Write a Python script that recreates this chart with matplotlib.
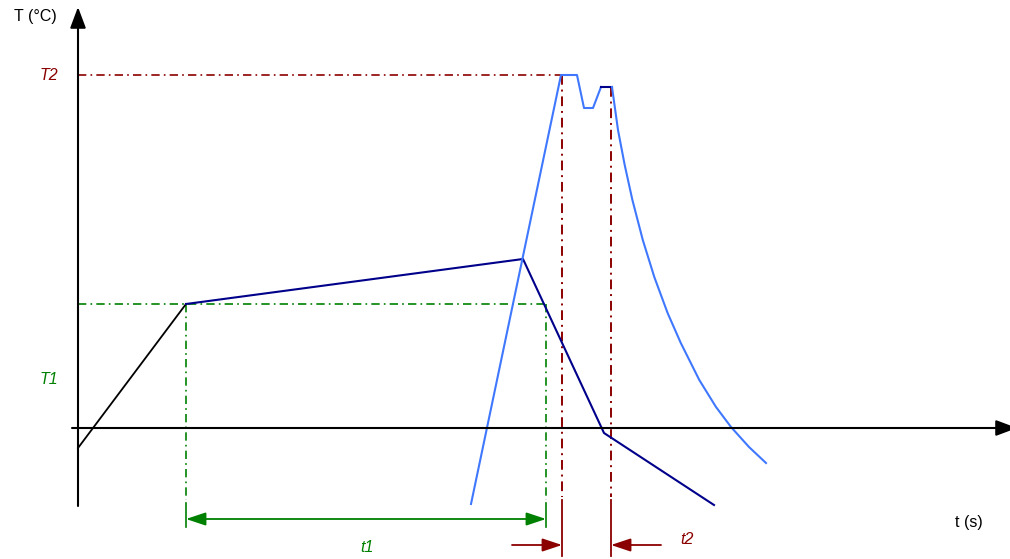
import matplotlib
matplotlib.use("Agg")
import matplotlib.pyplot as plt

plt.rcParams['font.family'] = ['Liberation Sans', 'DejaVu Sans']

# schematic in pixel space (x right, y down)
black_x = [78, 186]
black_y = [448, 304]

navy_x = [186, 523, 604, 714]
navy_y = [304, 259, 433, 505]

blue_rise_x = [471, 561, 577, 584, 593, 601]
blue_rise_y = [504, 75, 75, 108, 108, 87]
navy_top_x = [601, 612]
navy_top_y = [87, 87]
blue_fall_x = [612, 618, 624.7, 632.4, 642.8, 654.3, 667.6, 680.8, 699.3, 716, 731, 749, 766]
blue_fall_y = [87, 130, 165, 200, 240, 277, 313, 343, 380, 407, 427, 447, 463]

t1_level = 304
t1_start, t1_end = 186, 546
t2_level = 75
t2_start, t2_end = 562, 611
t2_end_top = 87

RED = "#8b0000"
GREEN = "#008000"
BLUE = "#3f78ff"
NAVY = "#00008b"
DASHDOT = (0, (5, 2.5, 1, 2.5))

fig = plt.figure(figsize=(10.10, 5.59), dpi=100)
ax = fig.add_axes([0, 0, 1, 1])
ax.set_xlim(0, 1010)
ax.set_ylim(559, 0)
ax.axis("off")

# axes with arrows
head = "-|>,head_length=0.8,head_width=0.3"
ax.annotate("", xy=(78, 7), xytext=(78, 506), annotation_clip=False,
            arrowprops=dict(arrowstyle=head, mutation_scale=16,
                            color="black", lw=1.5, shrinkA=0, shrinkB=0))
ax.annotate("", xy=(1017, 428), xytext=(72, 428), annotation_clip=False,
            arrowprops=dict(arrowstyle=head, mutation_scale=16,
                            color="black", lw=1.5, shrinkA=0, shrinkB=0))

# guide lines T1 / t1
ax.plot([78, t1_end], [t1_level, t1_level], color=GREEN, lw=1.2, ls=DASHDOT)
for xv in (t1_start, t1_end):
    ax.plot([xv, xv], [t1_level, 500], color=GREEN, lw=1.2, ls=DASHDOT)
    ax.plot([xv, xv], [503, 527], color=GREEN, lw=1.2)
ax.annotate("", xy=(t1_start, 519), xytext=(t1_end, 519),
            arrowprops=dict(arrowstyle="<|-|>,head_length=0.6,head_width=0.2", mutation_scale=20,
                            color=GREEN, lw=1.3, shrinkA=0, shrinkB=0))

# guide lines T2 / t2
ax.plot([78, t2_start], [t2_level, t2_level], color=RED, lw=1.2, ls=DASHDOT)
ax.plot([t2_start, t2_start], [t2_level, 497], color=RED, lw=1.4, ls=DASHDOT)
ax.plot([t2_end, t2_end], [t2_end_top, 497], color=RED, lw=1.4, ls=DASHDOT)
for xv in (t2_start, t2_end):
    ax.plot([xv, xv], [500, 556], color=RED, lw=1.3)
ax.annotate("", xy=(t2_start, 545), xytext=(512, 545),
            arrowprops=dict(arrowstyle="-|>,head_length=0.6,head_width=0.2", mutation_scale=20,
                            color=RED, lw=1.3, shrinkA=0, shrinkB=0))
ax.annotate("", xy=(t2_end, 545), xytext=(661, 545),
            arrowprops=dict(arrowstyle="-|>,head_length=0.6,head_width=0.2", mutation_scale=20,
                            color=RED, lw=1.3, shrinkA=0, shrinkB=0))

# curves
ax.plot(black_x, black_y, color="black", lw=1.3)
ax.plot(navy_x, navy_y, color=NAVY, lw=1.5)
ax.plot(blue_rise_x, blue_rise_y, color=BLUE, lw=1.5)
ax.plot(navy_top_x, navy_top_y, color=NAVY, lw=1.5)
ax.plot(blue_fall_x, blue_fall_y, color=BLUE, lw=1.5, solid_joinstyle="round")

# labels
fs = 11.5
ax.text(14, 16, "T (°C)", fontsize=fs, ha="left", va="center")
ax.text(955, 522, "t (s)", fontsize=fs, ha="left", va="center")
ax.text(40, 76, "T2", fontsize=fs, style="italic", color=RED, ha="left", va="center")
ax.text(40, 380, "T1", fontsize=fs, style="italic", color=GREEN, ha="left", va="center")
ax.text(367, 548, "t1", fontsize=fs, style="italic", color=GREEN, ha="center", va="center")
ax.text(687, 540, "t2", fontsize=fs, style="italic", color=RED, ha="center", va="center")

fig.savefig("out.png", dpi=100)
